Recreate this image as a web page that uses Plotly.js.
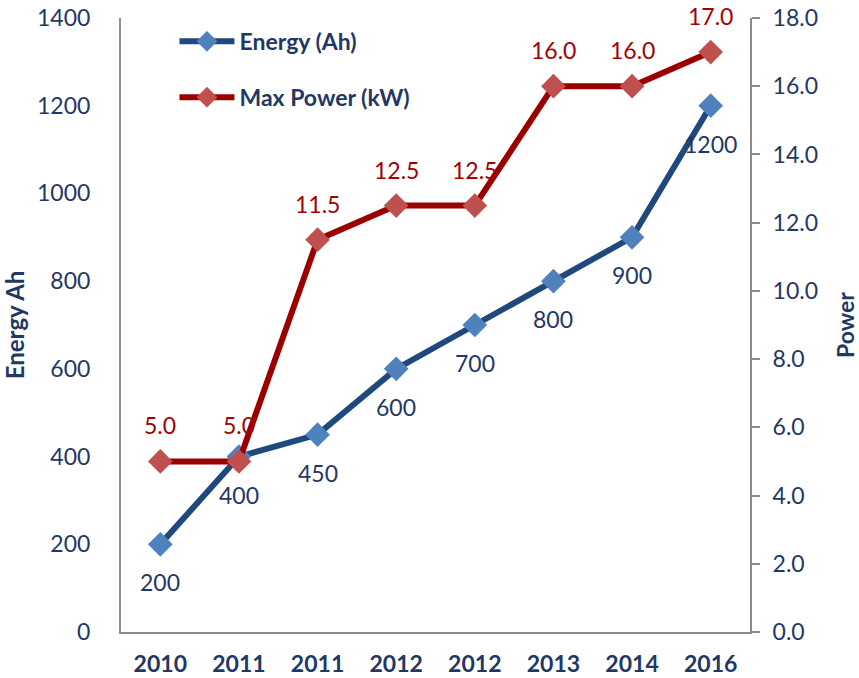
<!DOCTYPE html>
<html>
<head>
<meta charset="utf-8">
<script src="https://cdn.plot.ly/plotly-3.0.1.min.js"></script>
<style>html,body{margin:0;padding:0;background:#fff;}#chart{width:859px;height:678px;}</style>
</head>
<body>
<div id="chart"></div>
<script>
const years = ["2010","2011","2011","2012","2012","2013","2014","2016"];
const energyAh = [200, 400, 450, 600, 700, 800, 900, 1200];
const maxPowerKW = [5.0, 5.0, 11.5, 12.5, 12.5, 16.0, 16.0, 17.0];
const seriesNames = ["Energy (Ah)", "Max Power (kW)"];
const leftTicks = [0, 200, 400, 600, 800, 1000, 1200, 1400];
const rightTicks = [0, 2, 4, 6, 8, 10, 12, 14, 16, 18];

const idx = years.map((_, i) => i);
const navy = "#1F3864";
const red = "#A50000";
const font = "Lato, Carlito, Calibri, sans-serif";

const traces = [
  {
    x: idx, y: energyAh, name: seriesNames[0], yaxis: "y",
    type: "scatter", mode: "lines+markers",
    line: {color: "#1F497D", width: 6},
    marker: {symbol: "diamond", size: 19, color: "#4F81BD"},
    legendgroup: "a", cliponaxis: false
  },
  {
    x: idx, y: maxPowerKW, name: seriesNames[1], yaxis: "y2",
    type: "scatter", mode: "lines+markers",
    line: {color: "#9B0000", width: 6},
    marker: {symbol: "diamond", size: 19, color: "#C0504D"},
    legendgroup: "b", cliponaxis: false
  }
];

const annotations = [];
idx.forEach(i => {
  annotations.push({
    x: i, y: energyAh[i], xref: "x", yref: "y", text: String(energyAh[i]),
    showarrow: false, yshift: -38, xanchor: "center", yanchor: "middle",
    font: {family: font, size: 23, color: navy}
  });
  annotations.push({
    x: i, y: maxPowerKW[i], xref: "x", yref: "y2", text: maxPowerKW[i].toFixed(1),
    showarrow: false, yshift: 36, xanchor: "center", yanchor: "middle",
    font: {family: font, size: 23, color: red}
  });
});

const layout = {
  width: 859, height: 678,
  margin: {l: 121, r: 109, t: 18, b: 46},
  paper_bgcolor: "#fff", plot_bgcolor: "#fff",
  font: {family: font, color: navy},
  showlegend: true,
  legend: {
    x: 0.085, y: 0.997, xanchor: "left", yanchor: "top",
    bgcolor: "rgba(0,0,0,0)", traceorder: "grouped", tracegroupgap: 23,
    itemwidth: 55,
    font: {family: font, size: 23, color: navy, weight: "bold"}
  },
  annotations: annotations,
  xaxis: {
    range: [-0.5, 7.5], tickmode: "array", tickvals: idx, ticktext: years,
    showgrid: false, zeroline: false, showline: true, linecolor: "#8C8C8C", linewidth: 2,
    ticks: "", ticklabelstandoff: 10,
    tickfont: {family: font, size: 23, color: navy, weight: "bold"},
    fixedrange: true
  },
  yaxis: {
    range: [0, 1400], tickmode: "array", tickvals: leftTicks,
    showgrid: false, zeroline: false, showline: true, linecolor: "#8C8C8C", linewidth: 2,
    ticks: "", ticklabelstandoff: 24,
    tickfont: {family: font, size: 23, color: navy},
    title: {text: "Energy Ah", font: {family: font, size: 24, color: navy, weight: "bold"}, standoff: 10}
  },
  yaxis2: {
    range: [0, 18], overlaying: "y", side: "right", tickmode: "array", tickvals: rightTicks,
    tickformat: ".1f", showgrid: false, zeroline: false, showline: true, linecolor: "#8C8C8C", linewidth: 2,
    ticks: "outside", ticklen: 8, tickcolor: "#8C8C8C", tickwidth: 2, ticklabelstandoff: 8,
    tickfont: {family: font, size: 23, color: navy},
    title: {text: "Power", font: {family: font, size: 23, color: navy, weight: "bold"}, standoff: 24}
  }
};

Plotly.newPlot("chart", traces, layout, {displayModeBar: false, staticPlot: true});
</script>
</body>
</html>
